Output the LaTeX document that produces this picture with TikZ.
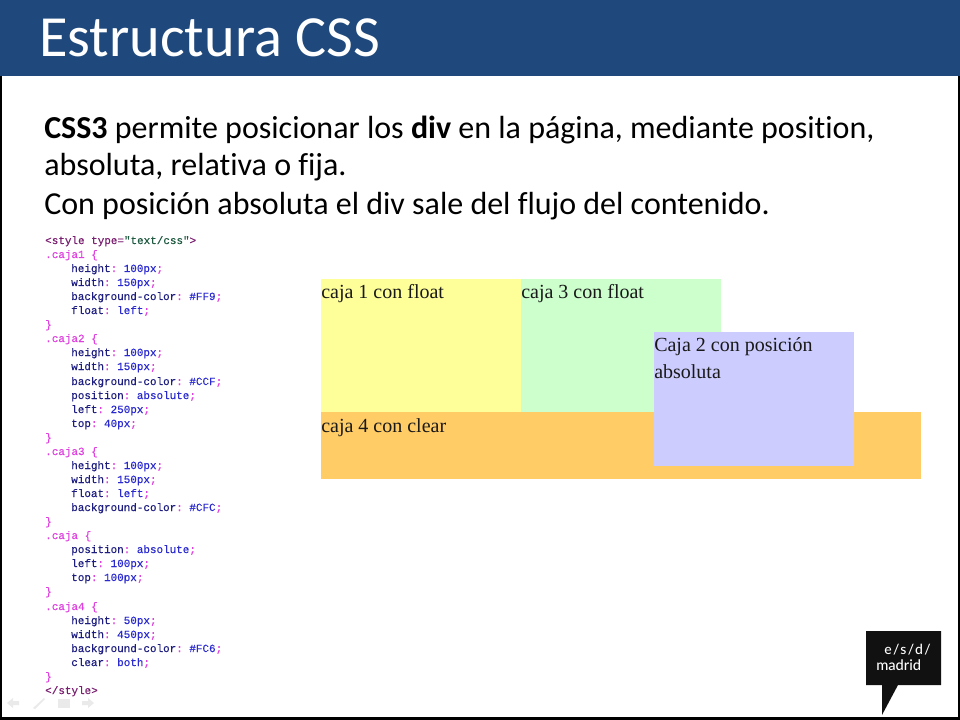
\documentclass[tikz,border=0pt]{standalone}
\usepackage{fontspec}
\setmainfont[RawFeature=-liga]{Carlito}
\setmonofont[FakeBold=0.25]{Liberation Mono}
\newfontfamily\serifbox{Liberation Serif}
\newfontfamily\logofont{Lato Medium}
\newfontfamily\logospaced[LetterSpace=10]{Lato Medium}
\usetikzlibrary{positioning}
\definecolor{band}{HTML}{1F497D}
\definecolor{cajaA}{HTML}{FFFF99}
\definecolor{cajaB}{HTML}{CCCCFF}
\definecolor{cajaC}{HTML}{CCFFCC}
\definecolor{cajaD}{HTML}{FFCC66}
\definecolor{cssSel}{HTML}{E040E0}
\definecolor{cssProp}{HTML}{1E1E80}
\definecolor{cssVal}{HTML}{2A2AD0}
\definecolor{cssTag}{HTML}{7A1E70}
\definecolor{cssStr}{HTML}{1E5A40}
\definecolor{logoInk}{HTML}{111111}
\definecolor{ghost}{HTML}{EAEAEA}
\newcommand{\pr}[2]{\textcolor{cssProp}{#1}\textcolor{cssSel}{:} \textcolor{cssVal}{#2}\textcolor{cssSel}{;}}
\tikzset{
  x=0.75pt,y=-0.75pt,
  codeline/.style={anchor=base west,inner sep=0pt,font=\ttfamily\fontsize{8.2pt}{8.2pt}\selectfont},
  boxtext/.style={anchor=base west,inner sep=0pt,font=\serifbox\fontsize{15pt}{15pt}\selectfont,text=black!90},
  bodytext/.style={anchor=base west,inner sep=0pt,font=\fontsize{24pt}{24pt}\selectfont,text=black},
  logotext/.style={inner sep=0pt,text=white},
}
\begin{document}
\begin{tikzpicture}
\useasboundingbox (0,0) rectangle (960,720);
\fill[white] (0,0) rectangle (960,720);
\fill[black] (0,76) rectangle (1.5,720);
\fill[black] (0,716.5) rectangle (960,720);
\fill[black] (958,76) rectangle (960,720);
\fill[band] (0,0) rectangle (960,76);
\node[anchor=base west,inner sep=0pt,text=white,font=\fontsize{43.7pt}{43.7pt}\selectfont] (title) at (39,57) {Estructura CSS};
\node[bodytext] (l1) at (44,139) {\textbf{CSS3} permite posicionar los \textbf{div} en la página, mediante position,};
\node[bodytext] (l2) at (44,176) {absoluta, relativa o fija.};
\node[bodytext] (l3) at (44,215) {Con posición absoluta el div sale del flujo del contenido.};
% rendered boxes
\fill[cajaD] (321,412) rectangle (921,479);
\fill[cajaA] (321,279) rectangle (521,412);
\fill[cajaC] (521,279) rectangle (721,412);
\fill[cajaB] (654,332) rectangle (854,466);
\node[boxtext] (t1) at (321,298) {caja 1 con float};
\node[boxtext] (t3) at (521,298) {caja 3 con float};
\node[boxtext] (t2) at (654,351) {Caja 2 con posición};
\node[boxtext] (t2b) at (654,378) {absoluta};
\node[boxtext] (t4) at (321,432) {caja 4 con clear};
% code
\foreach \n/\yy/\xx/\txt in {
 c1/244/45/{\textcolor{cssTag}{<style type=}\textcolor{cssStr}{"text/css"}\textcolor{cssTag}{>}},
 c2/258/45/{\textcolor{cssSel}{.caja1 \{}},
 c3/272/71/{\pr{height}{100px}},
 c4/286/71/{\pr{width}{150px}},
 c5/300/71/{\pr{background-color}{\#FF9}},
 c6/314/71/{\pr{float}{left}},
 c7/328/45/{\textcolor{cssSel}{\}}},
 c8/342/45/{\textcolor{cssSel}{.caja2 \{}},
 c9/356/71/{\pr{height}{100px}},
 c10/370/71/{\pr{width}{150px}},
 c11/385/71/{\pr{background-color}{\#CCF}},
 c12/399/71/{\pr{position}{absolute}},
 c13/413/71/{\pr{left}{250px}},
 c14/427/71/{\pr{top}{40px}},
 c15/441/45/{\textcolor{cssSel}{\}}},
 c16/455/45/{\textcolor{cssSel}{.caja3 \{}},
 c17/469/71/{\pr{height}{100px}},
 c18/483/71/{\pr{width}{150px}},
 c19/497/71/{\pr{float}{left}},
 c20/511/71/{\pr{background-color}{\#CFC}},
 c21/525/45/{\textcolor{cssSel}{\}}},
 c22/539/45/{\textcolor{cssSel}{.caja \{}},
 c23/553/71/{\pr{position}{absolute}},
 c24/567/71/{\pr{left}{100px}},
 c25/581/71/{\pr{top}{100px}},
 c26/595/45/{\textcolor{cssSel}{\}}},
 c27/610/45/{\textcolor{cssSel}{.caja4 \{}},
 c28/624/71/{\pr{height}{50px}},
 c29/638/71/{\pr{width}{450px}},
 c30/652/71/{\pr{background-color}{\#FC6}},
 c31/666/71/{\pr{clear}{both}},
 c32/680/45/{\textcolor{cssSel}{\}}},
 c33/694/45/{\textcolor{cssTag}{</style>}}}
 {\node[codeline] (\n) at (\xx,\yy) {\txt};}
% logo
\fill[logoInk] (866,631) -- (941,631) -- (941,685) -- (898,685) -- (882,715) -- (882,685) -- (866,685) -- cycle;
\node[logotext,anchor=base east,font=\logospaced\fontsize{10.5pt}{10.5pt}\selectfont] (lg1) at (931,654) {e/s/d/};
\node[logotext,anchor=base west,font=\logofont\fontsize{11pt}{11pt}\selectfont] (lg2) at (876,670) {madrid};
% faint slide-show controls
\fill[ghost] (7,703) -- (13,698) -- (13,701) -- (19,701) -- (19,705) -- (13,705) -- (13,708) -- cycle;
\fill[ghost] (33,708) -- (44,698) -- (45,699) -- (35,709) -- cycle;
\fill[ghost] (58,699) rectangle (70,708);
\fill[ghost] (94,703) -- (88,698) -- (88,701) -- (82,701) -- (82,705) -- (88,705) -- (88,708) -- cycle;
\end{tikzpicture}
\end{document}
